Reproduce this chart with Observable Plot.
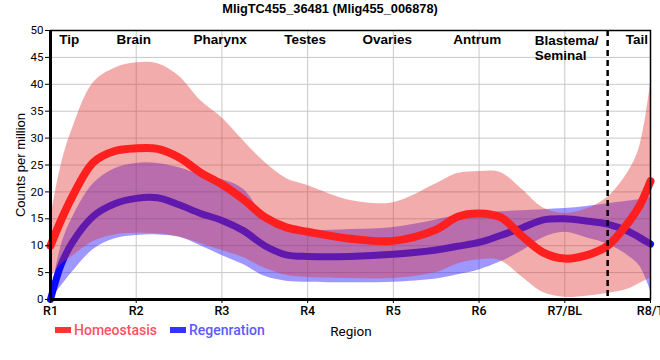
<!DOCTYPE html>
<html>
<head>
<meta charset="utf-8">
<script src="https://cdn.jsdelivr.net/npm/d3@7"></script>
<script src="https://cdn.jsdelivr.net/npm/@observablehq/plot@0.6"></script>
<style>
  body { margin: 0; background: #fff; font-family: "Liberation Sans", Arial, sans-serif; }
  #wrap { position: relative; width: 660px; height: 360px; overflow: hidden; }
  #chart { position: absolute; left: 0; top: 0; }
  .title { position: absolute; left: 0; width: 660px; top: 1px; text-align: center; font-weight: bold; font-size: 12.8px; color: #000; }
  .ylab { position: absolute; left: 20px; top: 165px; transform: translate(-50%, -50%) rotate(-90deg); font-size: 13px; white-space: nowrap; color: #000; }
  .leg { position: absolute; top: 322px; font-family: Roboto, "Liberation Sans", sans-serif; font-size: 14px; font-weight: 500; white-space: nowrap; }
  .sw { position: absolute; top: 327px; width: 16px; height: 6px; }
  .xlab { position: absolute; top: 323px; left: 351px; transform: translateX(-50%); font-family: Roboto, "Liberation Sans", sans-serif; font-size: 13.5px; color: #000; }
  g[aria-label="x-axis tick label"] text { font-family: Roboto, "Liberation Sans", sans-serif; font-weight: 500; }
  g[aria-label="y-axis tick label"] text { font-family: Roboto, "Liberation Sans", sans-serif; }
</style>
</head>
<body>
<div id="wrap">
  <div id="chart"></div>
  <div class="title">MligTC455_36481 (Mlig455_006878)</div>
  <div class="ylab">Counts per million</div>
  <div class="sw" style="left:55px;background:#ff3333"></div>
  <div class="leg" style="left:74px;color:#ff5064">Homeostasis</div>
  <div class="sw" style="left:170px;background:#3333ff"></div>
  <div class="leg" style="left:189px;color:#5a5aff">Regenration</div>
  <div class="xlab">Region</div>
</div>
<script>
// Category axis
const xLabels = ["R1", "R2", "R3", "R4", "R5", "R6", "R7/BL", "R8/T"];
const xTicks = [1, 2, 3, 4, 5, 6, 7, 8];
const yTicks = [0, 5, 10, 15, 20, 25, 30, 35, 40, 45, 50];

// Region names shown along the top
const regionNames = ["Tip", "Brain", "Pharynx", "Testes", "Ovaries", "Antrum", "Tail"];
const regionBlastema = ["Blastema/\nSeminal"];

// Sample positions along the body axis (category units)
const positions = [1, 1.125, 1.25, 1.5, 1.75, 2, 2.25, 2.5, 2.75, 3, 3.25, 3.5, 3.75, 4, 4.5, 5, 5.5, 5.75, 6, 6.25, 6.5, 6.75, 7, 7.25, 7.5, 7.75, 7.875, 8];

// Homeostasis: mean and band
const homeoMean  = [10, 14.8, 19, 25.5, 27.6, 28.1, 28.0, 26.4, 23.6, 21.4, 18.6, 15.3, 13.4, 12.6, 11.3, 10.9, 13, 15.4, 16, 15.3, 11.8, 8.7, 7.6, 8.2, 10, 14.5, 17.5, 22];
const homeoUpper = [15, 25, 31.5, 40.3, 43, 44, 43.8, 41.5, 37, 33.8, 29.5, 25.5, 22.5, 21.2, 18.4, 18, 21.5, 23.4, 23.8, 23.6, 20.5, 17, 16, 16.8, 19, 24, 28.5, 40];
const homeoLower = [4, 6.5, 8, 10.8, 12, 12.3, 12.2, 11.6, 10.4, 9.1, 7.8, 5.8, 4.5, 4.1, 3.9, 3.9, 5, 6.6, 7.4, 7.2, 4.2, 1.3, 0.4, 0.6, 1.1, 2, 3, 4];

// Regeneration: mean and band
const regenMean  = [0, 6.5, 10.5, 15.5, 17.8, 18.8, 18.9, 17.6, 16, 14.7, 12.8, 10, 8.3, 8.0, 8.0, 8.4, 9.2, 9.9, 10.6, 11.9, 13.3, 14.8, 15, 14.6, 14, 12.6, 11.5, 10.3];
const regenUpper = [0.5, 10, 15, 21.5, 24.3, 25.3, 25.3, 24.5, 23.2, 22.3, 20.5, 15.5, 13.3, 12.8, 13, 13.4, 14.8, 15.6, 16, 16.3, 16.5, 16.7, 16.9, 17.3, 17.8, 18.3, 18.6, 19];
const regenLower = [0, 2.5, 5, 9.3, 11.3, 11.9, 12, 11.6, 10, 8.2, 6.5, 4.3, 3.4, 3.2, 3.1, 3.2, 3.8, 4.6, 5.5, 7, 9, 11.5, 12.5, 11.5, 10.3, 8, 6.2, 1.7];

const dividerAt = [7.5];

const homeo = positions.map((p, i) => ({x: p, m: homeoMean[i], lo: homeoLower[i], hi: homeoUpper[i]}));
const regen = positions.map((p, i) => ({x: p, m: regenMean[i], lo: regenLower[i], hi: regenUpper[i]}));

const regionX = [1.22, 1.97, 2.98, 3.97, 4.93, 5.98, 7.84];
const blastemaX = [6.65];

const curve = "catmull-rom";

const chart = Plot.plot({
  width: 660,
  height: 360,
  marginTop: 30,
  marginBottom: 61,
  marginLeft: 50,
  marginRight: 10,
  style: { fontFamily: "'Liberation Sans', Arial, sans-serif", fontSize: "11px", color: "#000", background: "transparent" },
  x: { domain: [1, 8], label: null },
  y: { domain: [0, 50], label: null },
  marks: [
    Plot.gridY(yTicks, { stroke: "#c8c8c8", strokeOpacity: 1, strokeWidth: 1 }),
    Plot.gridX(xTicks, { stroke: "#c8c8c8", strokeOpacity: 1, strokeWidth: 1 }),
    Plot.areaY(regen, { x: "x", y1: "lo", y2: "hi", fill: "#2818ff", fillOpacity: 0.45, curve }),
    Plot.line(regen, { x: "x", y: "m", stroke: "#0a0aff", strokeWidth: 7, curve }),
    Plot.areaY(homeo, { x: "x", y1: "lo", y2: "hi", fill: "#e03030", fillOpacity: 0.4, curve }),
    Plot.line(homeo, { x: "x", y: "m", stroke: "#ff1f1f", strokeWidth: 8, curve }),
    Plot.ruleX(dividerAt, { stroke: "#000", strokeWidth: 2.5, strokeDasharray: "6,4" }),
    Plot.frame({ stroke: "#000", strokeWidth: 1.5 }),
    Plot.ruleX([1], { stroke: "#000", strokeWidth: 3 }),
    Plot.ruleY([0], { stroke: "#000", strokeWidth: 3 }),
    Plot.axisY(yTicks, { tickSize: 5, tickPadding: 2, fontSize: 11.5, label: null }),
    Plot.axisX(xTicks, { tickSize: 4, tickPadding: 3, fontSize: 12.5, tickFormat: d => xLabels[d - 1], label: null }),
    Plot.text(regionNames, { x: regionX, y: regionNames.map(() => 50), text: d => d, lineAnchor: "top", dy: 4, fontSize: 13.5, fontWeight: "bold", fill: "#000" }),
    Plot.text(regionBlastema, { x: blastemaX, y: [50], text: d => d, lineAnchor: "top", textAnchor: "start", dy: 4, lineHeight: 1.1, fontSize: 13.5, fontWeight: "bold", fill: "#000" })
  ]
});
document.getElementById("chart").appendChild(chart);
</script>
</body>
</html>
